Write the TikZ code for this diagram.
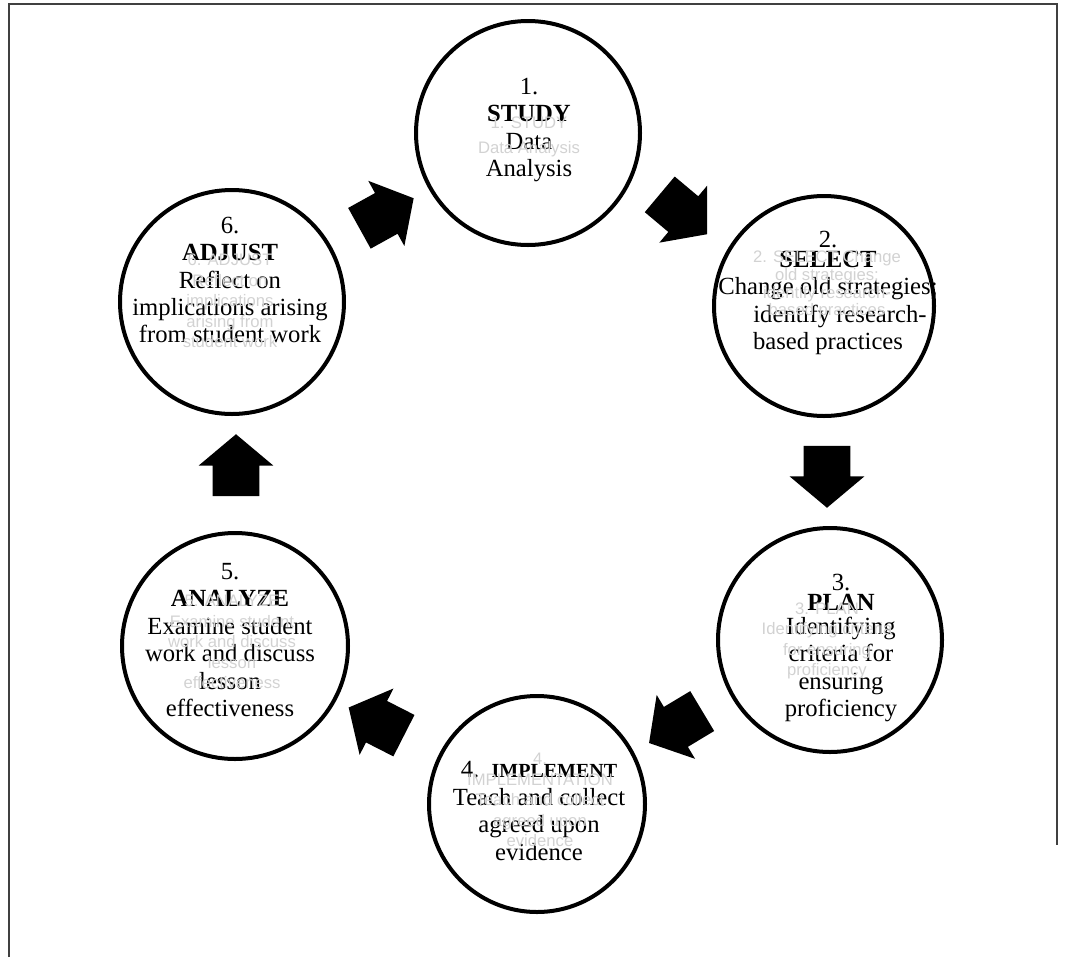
\documentclass[tikz,border=0pt]{standalone}
\usepackage{fontspec}
\setmainfont{Liberation Serif}
\newfontfamily\ghostfont{Liberation Sans}
\usetikzlibrary{shapes.arrows}

\tikzset{
  stage/.style={circle, draw=black, line width=3pt, inner sep=0pt},
  stagetext/.style={align=center, inner sep=0pt, font=\fontsize{18.5}{20.6}\selectfont},
  ghost/.style={align=center, text=gray!35, inner sep=0pt,
    font=\ghostfont\fontsize{12.5}{15.4}\selectfont},
  cyclearrow/.style={single arrow, fill=black, inner xsep=0pt, inner ysep=17.25pt,
    minimum height=46.5pt, single arrow head extend=10.5pt, single arrow tip angle=100}
}

\begin{document}
\begin{tikzpicture}[x=0.75pt, y=-0.75pt]
\useasboundingbox (0,0) rectangle (1067,957);
% frame
\draw[black!75, line width=1.5pt] (9,957) -- (9,4) -- (1057,4) -- (1057,845);

% stages of the cycle
\node[stage, minimum size=168pt] (s1) at (528,133) {};
\node[stage, minimum size=165pt] (s2) at (824,306) {};
\node[stage, minimum size=168pt] (s3) at (830,640) {};
\node[stage, minimum size=162pt] (s4) at (537,804) {};
\node[stage, minimum size=169.5pt] (s5) at (235,646) {};
\node[stage, minimum size=168pt] (s6) at (232,302) {};

\node[stagetext] (t1) at (529,130) {1.\\\textbf{STUDY}\\Data\\Analysis};
\node[stagetext] (t2) at (828,293)
  {2.\\[-6pt]\textbf{SELECT}\\Change old strategies;\\\hspace*{18pt}identify research-\\based practices};
\node[stagetext] (t3) at (841,648)
  {3.\\[-5pt]\textbf{PLAN}\\[-3pt]Identifying\\criteria for\\ensuring\\proficiency};
\node[stagetext] (t4) at (539,811)
  {4.\ \ {\fontsize{15}{20.6}\selectfont\textbf{IMPLEMENT}}\\Teach and collect\\agreed upon\\evidence};
\node[stagetext] (t5) at (230,640)
  {5.\\\textbf{ANALYZE}\\Examine student\\work and discuss\\lesson\\effectiveness};
\node[stagetext] (t6) at (230,280)
  {6.\\\textbf{ADJUST}\\Reflect on\\implications arising\\from student work};

% faint duplicate labels
\node[ghost] (g1) at (529,137) {1. STUDY\\[3pt]Data Analysis};
\node[ghost, font=\ghostfont\fontsize{12.5}{13.2}\selectfont] (g2) at (827,285)
  {2. SELECT Change\\old strategies;\\identify research-\\based practices};
\node[ghost] (g3) at (827,641) {3. PLAN\\Identifying criteria\\for ensuring\\proficiency};
\node[ghost] (g4) at (540,800) {4.\\IMPLEMENTATION\\Teach and collect\\agreed upon\\evidence};
\node[ghost] (g5) at (232,642) {5. ANALYZE\\Examine student\\work and discuss\\lesson\\effectiveness};
\node[ghost] (g6) at (230,301) {6. ADJUST\\Reflect on\\implications\\arising from\\student work};

% arrows between the stages
\node[cyclearrow, rotate=-40] (a12) at (676,208) {};
\node[cyclearrow, rotate=-90] (a23) at (827,467) {};
\node[cyclearrow, rotate=-149] (a34) at (684,722) {};
\node[cyclearrow, rotate=153] (a45) at (385,726) {};
\node[cyclearrow, rotate=90] (a56) at (236,475) {};
\node[cyclearrow, rotate=29] (a61) at (378,218) {};
\end{tikzpicture}
\end{document}
